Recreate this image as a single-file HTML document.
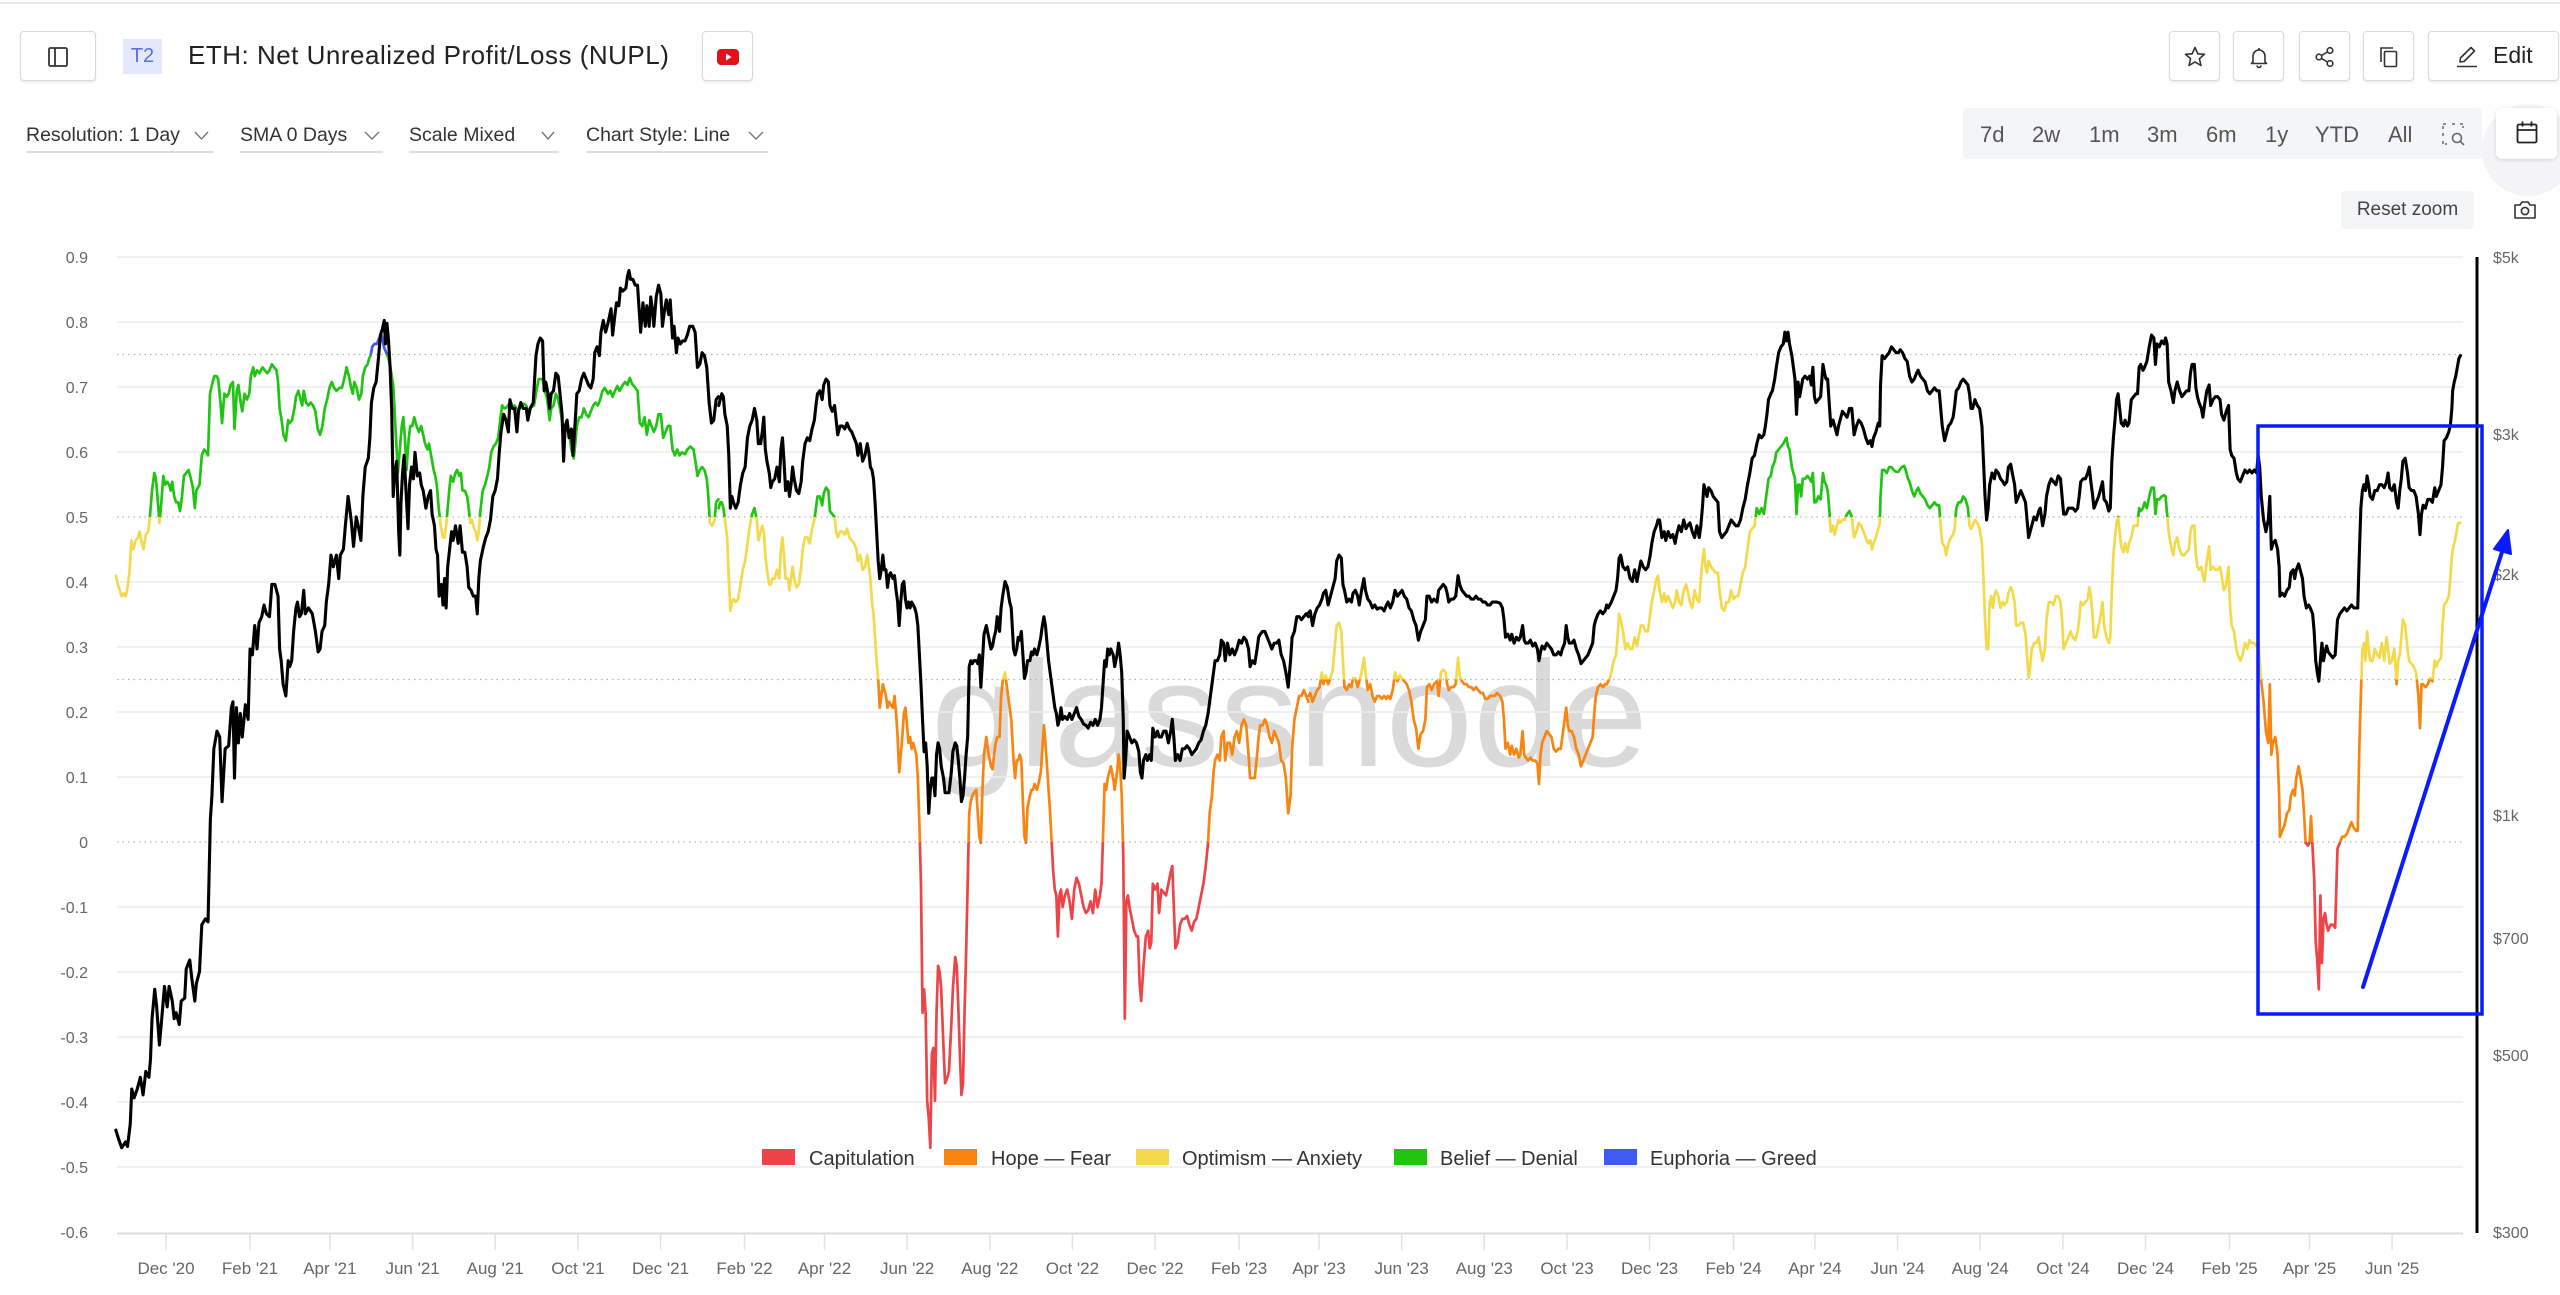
<!DOCTYPE html>
<html><head><meta charset="utf-8">
<style>
html,body{margin:0;padding:0;background:#fff;}
body{width:2560px;height:1295px;position:relative;overflow:hidden;font-family:"Liberation Sans",Arial,sans-serif;}
.btn{position:absolute;box-sizing:border-box;border:1px solid #d9d9d9;border-radius:4px;background:#fff;box-shadow:0 2px 2px rgba(0,0,0,0.07);}
.dd{position:absolute;top:126px;font-size:19.5px;color:#333;line-height:19.5px;white-space:nowrap;}
.ul{position:absolute;top:151px;height:2px;background:#dedede;}
.tr{position:absolute;top:124px;font-size:22px;line-height:22px;color:#555;white-space:nowrap;}
svg{position:absolute;left:0;top:0;}
</style></head><body>

<div style="position:absolute;left:0;top:2px;width:2560px;height:2px;background:#e8e8e8;"></div>

<!-- header left -->
<div class="btn" style="left:20px;top:31px;width:76px;height:50px;">
<svg style="left:26px;top:14px" width="22" height="22" viewBox="0 0 22 22"><rect x="2" y="2" width="18" height="18" rx="1.5" fill="none" stroke="#333" stroke-width="1.8"/><line x1="8" y1="2" x2="8" y2="20" stroke="#333" stroke-width="1.8"/></svg>
</div>
<div style="position:absolute;left:123px;top:39px;width:39px;height:35px;background:#e4e8fb;color:#5a6fe6;font-size:20px;line-height:35px;text-align:center;">T2</div>
<div style="position:absolute;left:188px;top:42px;font-size:26px;line-height:26px;color:#222;letter-spacing:0.5px;white-space:nowrap;">ETH: Net Unrealized Profit/Loss (NUPL)</div>
<div class="btn" style="left:702px;top:31px;width:51px;height:50px;">
<svg style="left:13px;top:16px" width="24" height="18" viewBox="0 0 24 18"><rect x="1" y="1" width="22" height="16" rx="4" fill="#e0121b"/><polygon points="10,5.5 15.5,9 10,12.5" fill="#fff"/></svg>
</div>

<!-- header right -->
<div class="btn" style="left:2169px;top:31px;width:51px;height:50px;">
<svg style="left:13px;top:13px" width="24" height="24" viewBox="0 0 24 24"><polygon points="12,2.5 14.8,8.8 21.5,9.3 16.4,13.7 18,20.5 12,16.9 6,20.5 7.6,13.7 2.5,9.3 9.2,8.8" fill="none" stroke="#333" stroke-width="1.6" stroke-linejoin="round"/></svg>
</div>
<div class="btn" style="left:2233px;top:31px;width:51px;height:50px;">
<svg style="left:13px;top:13px" width="24" height="24" viewBox="0 0 24 24"><path d="M6 17 V11 a6 6 0 0 1 12 0 V17 l1.5 1.5 H4.5 Z" fill="none" stroke="#333" stroke-width="1.6" stroke-linejoin="round"/><path d="M10 20.5 a2 2 0 0 0 4 0" fill="none" stroke="#333" stroke-width="1.6"/><line x1="12" y1="3" x2="12" y2="5" stroke="#333" stroke-width="1.6"/></svg>
</div>
<div class="btn" style="left:2299px;top:31px;width:51px;height:50px;">
<svg style="left:13px;top:13px" width="24" height="24" viewBox="0 0 24 24"><circle cx="17" cy="5.5" r="2.8" fill="none" stroke="#333" stroke-width="1.6"/><circle cx="6" cy="12" r="2.8" fill="none" stroke="#333" stroke-width="1.6"/><circle cx="17" cy="18.5" r="2.8" fill="none" stroke="#333" stroke-width="1.6"/><line x1="8.5" y1="10.6" x2="14.5" y2="7" stroke="#333" stroke-width="1.6"/><line x1="8.5" y1="13.4" x2="14.5" y2="17" stroke="#333" stroke-width="1.6"/></svg>
</div>
<div class="btn" style="left:2363px;top:31px;width:51px;height:50px;">
<svg style="left:13px;top:13px" width="24" height="24" viewBox="0 0 24 24"><path d="M4 17 V3 H16" fill="none" stroke="#333" stroke-width="1.6"/><rect x="7.5" y="6.5" width="12" height="15" rx="1" fill="none" stroke="#333" stroke-width="1.6"/></svg>
</div>
<div class="btn" style="left:2428px;top:31px;width:131px;height:50px;">
<svg style="left:26px;top:12px" width="24" height="26" viewBox="0 0 24 26"><path d="M5 18 L5.5 14 L16 3.5 L19.5 7 L9 17.5 Z" fill="none" stroke="#333" stroke-width="1.6" stroke-linejoin="round"/><line x1="2" y1="22.5" x2="22" y2="22.5" stroke="#333" stroke-width="1.6"/></svg>
<div style="position:absolute;left:64px;top:12px;font-size:23px;line-height:23px;color:#222;">Edit</div>
</div>

<!-- row 2 dropdowns -->
<div class="dd" style="left:26px;">Resolution: 1 Day</div>
<div class="dd" style="left:240px;">SMA 0 Days</div>
<div class="dd" style="left:409px;">Scale Mixed</div>
<div class="dd" style="left:586px;">Chart Style: Line</div>
<div class="ul" style="left:26px;width:188px;"></div>
<div class="ul" style="left:240px;width:143px;"></div>
<div class="ul" style="left:409px;width:150px;"></div>
<div class="ul" style="left:586px;width:182px;"></div>
<svg width="2560" height="200" viewBox="0 0 2560 200" style="pointer-events:none">
<g fill="none" stroke="#777" stroke-width="1.4">
<polyline points="195,132 201.5,139 208,132"/>
<polyline points="365,132 372,139 379,132"/>
<polyline points="542,132 548,139 554,132"/>
<polyline points="749,132 756,139 763,132"/>
</g>
</svg>

<!-- time range -->
<div style="position:absolute;left:1963px;top:108px;width:519px;height:51px;background:#f4f5f7;border-radius:4px;"></div>
<div class="tr" style="left:1980px;">7d</div>
<div class="tr" style="left:2032px;">2w</div>
<div class="tr" style="left:2089px;">1m</div>
<div class="tr" style="left:2147px;">3m</div>
<div class="tr" style="left:2206px;">6m</div>
<div class="tr" style="left:2265px;">1y</div>
<div class="tr" style="left:2315px;">YTD</div>
<div class="tr" style="left:2388px;">All</div>
<svg style="left:2441px;top:122px" width="26" height="26" viewBox="0 0 26 26"><path d="M2 7 V2 H7 M11 2 H15 M19 2 H22 V6 M2 11 V15 M2 19 V22 H6" fill="none" stroke="#666" stroke-width="1.5" stroke-dasharray="3 2"/><circle cx="16" cy="16" r="4.5" fill="none" stroke="#666" stroke-width="1.6"/><line x1="19.3" y1="19.3" x2="23" y2="23" stroke="#666" stroke-width="1.6"/></svg>

<div style="position:absolute;left:2482px;top:104px;width:92px;height:92px;border-radius:50%;background:#f4f4f6;"></div>
<div style="position:absolute;left:2496px;top:108px;width:61px;height:51px;background:#fff;border-radius:6px;box-shadow:0 1px 4px rgba(0,0,0,0.13);">
<svg style="left:19px;top:12px" width="24" height="26" viewBox="0 0 24 26"><rect x="2.5" y="4.5" width="19" height="18" rx="1.5" fill="none" stroke="#222" stroke-width="1.8"/><line x1="2.5" y1="10" x2="21.5" y2="10" stroke="#222" stroke-width="1.8"/><line x1="7.5" y1="1.5" x2="7.5" y2="6.5" stroke="#222" stroke-width="1.8"/><line x1="16.5" y1="1.5" x2="16.5" y2="6.5" stroke="#222" stroke-width="1.8"/></svg>
</div>

<div style="position:absolute;left:2341px;top:191px;width:133px;height:38px;background:#f4f5f7;border-radius:4px;font-size:19px;line-height:38px;text-align:center;color:#444;">Reset zoom</div>
<svg style="left:2513px;top:199px" width="24" height="22" viewBox="0 0 24 22"><path d="M2 6 H7 L9 3 H15 L17 6 H22 V19 H2 Z" fill="none" stroke="#333" stroke-width="1.6" stroke-linejoin="round"/><circle cx="12" cy="12" r="3.6" fill="none" stroke="#333" stroke-width="1.6"/></svg>

<!-- chart -->
<svg width="2560" height="1295" viewBox="0 0 2560 1295">
<defs>
<clipPath id="cB" clipPathUnits="userSpaceOnUse"><rect x="0" y="0" width="2560" height="354.5"/></clipPath>
<clipPath id="cG" clipPathUnits="userSpaceOnUse"><rect x="0" y="354.5" width="2560" height="162.5"/></clipPath>
<clipPath id="cY" clipPathUnits="userSpaceOnUse"><rect x="0" y="517" width="2560" height="162.5"/></clipPath>
<clipPath id="cO" clipPathUnits="userSpaceOnUse"><rect x="0" y="679.5" width="2560" height="162.5"/></clipPath>
<clipPath id="cR" clipPathUnits="userSpaceOnUse"><rect x="0" y="842" width="2560" height="453"/></clipPath>
<g id="nupl" fill="none" stroke-width="2.7" stroke-linejoin="round" stroke-linecap="round">
<g transform="translate(110,250) scale(0.38903,0.58675)"><polyline vector-effect="non-scaling-stroke" points="15,555 20,570 25,580 30,590 36,585 40,590 44,580 50,550 55,495 60,510 66,495 72,490 76,480 82,500 86,510 92,485 98,480 102,460 108,410 114,380 118,390 122,420 127,465 132,430 137,385 142,400 147,395 152,400 156,410 160,395 165,420 170,430 175,430 180,445 185,420 190,385 196,380 202,375 208,390 213,405 218,440 222,410 230,400 236,350 242,340 248,345 252,350 257,245 262,230 268,215 274,215 278,220 284,260 288,295 294,245 300,250 305,245 310,230 316,225 320,305 326,240 330,230 336,260 340,275 346,245 352,255 358,245 362,215 368,200 372,215 378,205 384,210 392,200 398,205 404,210 410,205 416,195 422,200 428,205 432,225 436,270 440,285 446,315 452,325 458,290 462,295 468,290 474,270 478,250 484,240 490,255 494,265 498,240 504,260 510,265 516,260 522,265 528,275 534,305 540,315 546,300 552,270 558,255 564,235 570,225 576,235 582,240 590,235 596,235 602,220 608,200 614,215 620,235 624,245 628,225 634,235 640,255 646,245 650,215 656,200 662,195 666,185 670,180 674,165 680,160 686,160 692,150 698,145 704,165 710,175 716,185 722,205 728,230 732,280 736,330 740,380 745,340 750,300 754,285 758,320 762,375 768,320 772,300 777,300 782,285 788,300 794,310 800,300 805,315 810,330 816,340 820,330 824,345 828,360 832,375 836,385 840,400 845,440 850,470 856,490 860,490 864,470 868,440 872,410 876,385 882,395 888,380 892,375 898,385 902,380 906,410 912,410 918,420 922,440 926,465 930,460 936,475 940,480 944,495 948,480 952,445 958,410 964,400 970,385 975,370 980,345 986,335 992,330 998,320 1003,290 1008,265 1014,270 1020,268 1026,262 1032,268 1040,265 1048,272 1056,268 1064,262 1070,265 1076,280 1082,268 1090,265 1096,240 1102,220 1108,220 1112,220 1118,240 1124,255 1130,290 1134,270 1140,265 1146,245 1152,255 1158,275 1164,300 1170,310 1176,300 1182,320 1186,340 1192,355 1196,330 1200,300 1206,285 1212,285 1218,270 1224,280 1230,285 1236,275 1242,265 1248,260 1254,265 1260,255 1266,240 1272,235 1280,245 1286,240 1292,250 1298,240 1304,232 1310,240 1318,230 1324,225 1330,230 1336,218 1342,228 1348,233 1356,240 1362,295 1368,300 1374,285 1380,315 1386,290 1392,300 1398,310 1404,300 1410,280 1416,280 1422,320 1428,310 1434,300 1440,300 1446,340 1452,350 1458,340 1464,350 1470,345 1478,348 1484,340 1492,335 1500,340 1506,365 1510,385 1516,375 1522,370 1528,375 1534,390 1538,420 1542,465 1548,470 1554,460 1558,430 1564,425"/></g>
<g transform="translate(700,250) scale(0.38903,0.58675)"><polyline vector-effect="non-scaling-stroke" points="48,440 52,430 56,430 60,440 64,460 70,490 74,560 78,615 82,600 86,595 92,600 98,595 104,570 110,545 116,530 122,500 128,470 134,450 140,440 146,460 150,495 156,480 160,470 164,480 168,520 172,545 178,570 182,570 186,560 192,560 198,545 204,560 208,510 212,490 216,520 220,560 226,560 230,580 234,560 238,540 242,560 248,575 254,570 260,540 264,510 270,490 276,490 282,500 288,475 294,460 298,440 302,420 308,420 314,435 318,415 324,405 330,410 334,445 340,450 346,455 350,480 354,490 360,480 366,480 372,485 378,475 384,490 390,495 396,500 402,510 406,530 412,520 418,545 424,540 430,520 434,540 438,560 442,600 446,620 450,660 454,700 458,730 462,780 466,760 470,740 474,750 478,760 482,780 486,770 490,775 496,780 500,760 504,790 508,830 512,890 516,860 520,830 524,790 528,780 532,810 536,840 540,830 544,850 548,840 552,850 556,860 560,900 564,980 568,1080 572,1300 576,1260 580,1300 584,1450 588,1480 592,1530 596,1370 600,1360 604,1450 608,1300 612,1220 616,1230 620,1260 626,1360 630,1420 636,1410 640,1400 646,1320 650,1260 656,1205 660,1220 664,1290 668,1370 672,1440 676,1420 680,1300 684,1200 688,1080 692,960 696,940 700,930 704,925 710,920 714,960 718,1000 722,1010 726,920 730,860 736,830 742,860 748,880 752,885 756,860 760,840 764,830 770,830 774,760 778,735 784,720 790,750 796,780 800,800 806,870 810,900 814,870 818,870 822,860 826,870 830,940 834,1000 838,1010 842,950 848,930 852,920 856,920 860,910 866,920 870,910 876,890 880,850 884,810 888,840 892,880 896,920 900,960 904,1010 908,1060 912,1090 916,1100 920,1170 924,1100 928,1090 932,1120 938,1100 944,1090 950,1110 956,1140 962,1090 968,1070 974,1080 980,1100 986,1120 992,1130 998,1125 1004,1110 1010,1130 1016,1090 1022,1120 1028,1100 1032,1080 1036,1000 1040,910 1044,920 1048,900 1052,890 1056,880 1062,900 1066,920 1072,890 1076,860 1080,880 1084,930 1088,1030 1092,1310 1096,1110 1100,1100 1104,1120 1110,1140 1116,1160 1122,1170 1126,1170 1130,1250 1134,1280 1140,1220 1146,1170 1152,1160 1156,1190 1160,1180 1164,1080 1170,1090 1176,1080 1180,1130 1186,1090 1192,1095 1198,1100 1204,1080 1210,1060 1214,1050 1218,1120 1222,1190 1228,1180 1234,1150 1240,1140 1246,1140 1252,1135 1258,1150 1264,1160 1270,1145 1276,1140 1282,1120 1288,1100 1294,1080 1300,1050 1306,1010 1310,960 1316,930 1320,890 1324,870 1330,860 1336,870 1340,830 1346,820 1350,870 1356,840 1362,840 1368,860 1374,830 1380,820 1386,840 1392,810 1398,800 1404,810 1410,860 1414,900 1420,900 1426,900 1432,860 1436,830 1440,810 1446,810 1452,800 1458,810 1464,830 1470,840 1476,820 1482,830 1488,840 1494,870 1500,875 1506,900 1512,960 1518,930 1522,850 1528,800 1534,780 1540,760 1546,760 1552,750 1558,760 1564,770"/></g>
<g transform="translate(1290,250) scale(0.38903,0.58675)"><polyline vector-effect="non-scaling-stroke" points="48,760 52,755 58,770 64,760 70,750 76,745 82,720 86,740 92,725 98,740 104,730 110,715 116,670 120,640 126,635 132,650 136,700 140,745 146,750 152,740 158,745 162,730 168,730 174,745 178,735 184,720 190,695 194,720 200,750 206,740 212,760 218,770 224,760 230,760 236,765 242,760 248,765 252,760 258,765 264,750 270,720 276,735 282,725 288,730 294,735 300,740 306,750 312,770 318,800 324,815 330,850 336,825 342,820 348,800 352,745 358,740 364,750 370,740 378,735 382,760 388,720 394,715 400,720 404,740 408,750 414,745 420,745 426,740 432,695 436,725 442,735 448,740 454,740 460,745 466,745 472,750 478,745 484,750 490,755 496,755 502,765 508,765 514,760 520,760 526,760 532,755 540,760 546,770 550,800 554,850 560,840 566,860 570,845 576,860 582,850 588,865 592,860 598,820 602,860 606,865 612,870 618,865 624,870 630,870 636,875 640,910 644,860 648,840 654,830 660,820 666,825 672,830 678,850 684,855 690,850 696,850 700,830 706,800 710,780 714,810 718,820 724,820 730,830 736,850 742,860 748,880 754,870 760,860 766,850 772,840 778,830 782,790 786,760 792,745 798,740 804,745 810,740 814,740 818,735 822,730 826,720 832,700 838,690 842,660 846,620 850,630 856,650 862,680 868,670 874,680 880,680 886,660 892,675 896,660 902,640 908,640 914,650 920,650 926,620 930,600 936,580 942,560 946,555 950,580 956,600 962,585 966,600 972,590 978,600 984,610 990,600 994,580 1000,600 1006,605 1012,580 1018,570 1022,580 1028,600 1034,610 1040,580 1046,595 1052,600 1056,560 1060,530 1064,510 1068,540 1072,550 1076,530 1082,540 1088,545 1094,550 1100,550 1104,580 1110,610 1116,615 1122,600 1128,600 1134,580 1140,595 1146,590 1152,590 1158,570 1164,550 1170,540 1176,510 1182,480 1188,475 1194,470 1200,440 1206,450 1212,440 1218,450 1222,430 1226,410 1230,390 1236,385 1240,370 1246,360 1250,345 1256,340 1262,335 1268,330 1272,325 1276,320 1280,335 1284,340 1290,370 1294,380 1298,390 1302,450 1306,400 1310,400 1314,420 1318,390 1324,390 1330,385 1336,390 1340,395 1344,380 1348,430 1352,430 1358,420 1364,425 1370,380 1374,395 1378,400 1382,410 1386,440 1390,480 1396,470 1400,485 1406,470 1410,460 1414,465 1420,460 1426,460 1432,450 1438,445 1444,455 1450,490 1456,480 1462,465 1468,470 1474,480 1480,490 1486,500 1492,495 1496,510 1500,500 1506,490 1512,475 1516,465 1518,420 1522,375 1528,375 1534,380 1540,370 1546,370 1552,375 1558,378 1564,378"/></g>
<g transform="translate(1880,250) scale(0.38903,0.58675)"><polyline vector-effect="non-scaling-stroke" points="50,375 56,370 62,368 66,375 72,390 76,395 82,410 88,420 94,410 98,405 104,415 110,420 116,425 122,435 128,440 134,435 140,430 146,435 152,435 156,470 160,500 166,505 170,520 176,500 182,490 188,485 192,475 196,440 202,430 208,430 214,420 220,425 226,440 230,470 234,475 238,470 244,460 250,465 256,475 262,500 266,560 270,630 274,680 278,680 282,600 286,590 290,610 294,590 298,580 304,590 310,610 316,600 320,605 326,600 330,585 336,575 340,580 346,600 350,640 356,640 362,635 368,635 374,655 378,690 382,730 386,710 390,680 396,670 402,670 408,660 412,680 418,700 424,680 428,630 434,600 440,600 446,605 452,590 458,590 464,600 468,630 472,680 478,670 484,660 490,650 496,660 502,665 508,650 512,630 516,600 522,605 528,600 534,595 538,575 542,590 546,620 550,660 556,660 562,640 568,620 572,600 576,640 582,660 588,670 592,660 596,580 600,520 604,490 608,465 612,455 616,480 620,505 626,515 630,500 636,515 640,500 646,490 652,470 658,470 662,470 666,440 670,445 676,440 680,430 686,440 692,420 698,405 704,405 708,450 712,425 718,425 724,420 730,418 734,420 738,450 742,480 748,505 754,520 758,500 764,490 770,510 776,520 782,520 788,515 794,510 798,480 802,470 808,470 812,520 816,540 820,545 826,540 830,555 834,565 840,530 846,505 850,545 856,540 862,545 868,545 874,540 878,555 884,580 890,570 896,540 900,610 904,640 910,650 916,680 920,690 926,700 932,690 938,670 944,680 950,665 956,670 962,670 968,675 972,665 976,700 980,735 986,770 992,820 998,840 1002,740 1006,860 1010,840 1016,830 1022,860 1026,930 1028,1000 1034,990 1040,980 1046,960 1052,955 1056,930 1062,920 1066,930 1070,900 1076,880 1080,895 1086,920 1090,960 1094,1010 1100,1015 1104,1010 1108,965 1112,1020 1116,1070 1120,1180 1124,1210 1128,1260 1132,1100 1136,1215 1140,1140 1144,1130 1148,1150 1152,1160 1158,1150 1164,1150 1170,1155 1176,1020 1182,1010 1188,1000 1194,1000 1200,995 1206,985 1212,975 1218,985 1224,990 1228,990 1232,850 1236,760 1240,680 1244,670 1248,700 1252,650 1256,680 1260,700 1266,700 1272,680 1278,690 1284,695 1290,670 1296,700 1302,660 1306,680 1310,705 1316,700 1322,680 1328,740 1332,700 1336,690 1340,660 1344,630 1350,640 1356,680 1360,700 1366,705 1372,710 1378,720 1384,760 1388,815 1392,740 1396,740 1402,745 1408,740 1414,730 1420,735 1426,700 1430,710 1436,700 1442,695 1446,640 1450,605 1456,600 1462,590 1466,560 1470,520 1474,505 1478,495 1482,480 1486,465 1492,465"/></g>
</g>
</defs>

<!-- watermark -->
<text x="931" y="766" font-family="Liberation Sans, sans-serif" font-size="150" fill="#dadada" textLength="717" lengthAdjust="spacingAndGlyphs">glassnode</text>

<!-- gridlines -->
<g stroke="#ececec" stroke-width="1.5">
<line x1="117" y1="257" x2="2463" y2="257"/>
<line x1="117" y1="322" x2="2463" y2="322"/>
<line x1="117" y1="387" x2="2463" y2="387"/>
<line x1="117" y1="452" x2="2463" y2="452"/>
<line x1="117" y1="582" x2="2463" y2="582"/>
<line x1="117" y1="647" x2="2463" y2="647"/>
<line x1="117" y1="712" x2="2463" y2="712"/>
<line x1="117" y1="777" x2="2463" y2="777"/>
<line x1="117" y1="907" x2="2463" y2="907"/>
<line x1="117" y1="972" x2="2463" y2="972"/>
<line x1="117" y1="1037" x2="2463" y2="1037"/>
<line x1="117" y1="1102" x2="2463" y2="1102"/>
<line x1="117" y1="1167" x2="2463" y2="1167"/>
</g>
<g stroke="#b3b3b3" stroke-width="1.3" stroke-dasharray="1.5 4">
<line x1="117" y1="354.5" x2="2463" y2="354.5"/>
<line x1="117" y1="517" x2="2463" y2="517"/>
<line x1="117" y1="679.5" x2="2463" y2="679.5"/>
<line x1="117" y1="842" x2="2463" y2="842"/>
</g>
<line x1="117" y1="1233.5" x2="2463" y2="1233.5" stroke="#dcdcdc" stroke-width="2"/>
<g stroke="#e2e2e2" stroke-width="1.5">
<line x1="166" y1="1234" x2="166" y2="1250"/><line x1="250" y1="1234" x2="250" y2="1250"/><line x1="329.9" y1="1234" x2="329.9" y2="1250"/><line x1="412.6" y1="1234" x2="412.6" y2="1250"/><line x1="495.2" y1="1234" x2="495.2" y2="1250"/><line x1="577.9" y1="1234" x2="577.9" y2="1250"/><line x1="660.5" y1="1234" x2="660.5" y2="1250"/><line x1="744.5" y1="1234" x2="744.5" y2="1250"/><line x1="824.5" y1="1234" x2="824.5" y2="1250"/><line x1="907.1" y1="1234" x2="907.1" y2="1250"/><line x1="989.8" y1="1234" x2="989.8" y2="1250"/><line x1="1072.4" y1="1234" x2="1072.4" y2="1250"/><line x1="1155.1" y1="1234" x2="1155.1" y2="1250"/><line x1="1239.1" y1="1234" x2="1239.1" y2="1250"/><line x1="1319" y1="1234" x2="1319" y2="1250"/><line x1="1401.7" y1="1234" x2="1401.7" y2="1250"/><line x1="1484.3" y1="1234" x2="1484.3" y2="1250"/><line x1="1567" y1="1234" x2="1567" y2="1250"/><line x1="1649.6" y1="1234" x2="1649.6" y2="1250"/><line x1="1733.6" y1="1234" x2="1733.6" y2="1250"/><line x1="1814.9" y1="1234" x2="1814.9" y2="1250"/><line x1="1897.6" y1="1234" x2="1897.6" y2="1250"/><line x1="1980.2" y1="1234" x2="1980.2" y2="1250"/><line x1="2062.9" y1="1234" x2="2062.9" y2="1250"/><line x1="2145.5" y1="1234" x2="2145.5" y2="1250"/><line x1="2229.5" y1="1234" x2="2229.5" y2="1250"/><line x1="2309.5" y1="1234" x2="2309.5" y2="1250"/><line x1="2392.1" y1="1234" x2="2392.1" y2="1250"/>
</g>

<!-- axis labels -->
<g font-family="Liberation Sans, sans-serif" font-size="16" fill="#666" text-anchor="end">
<text x="88" y="263">0.9</text><text x="88" y="328">0.8</text><text x="88" y="393">0.7</text><text x="88" y="458">0.6</text><text x="88" y="523">0.5</text><text x="88" y="588">0.4</text><text x="88" y="653">0.3</text><text x="88" y="718">0.2</text><text x="88" y="783">0.1</text><text x="88" y="848">0</text><text x="88" y="913">-0.1</text><text x="88" y="978">-0.2</text><text x="88" y="1043">-0.3</text><text x="88" y="1108">-0.4</text><text x="88" y="1173">-0.5</text><text x="88" y="1238">-0.6</text>
</g>
<g font-family="Liberation Sans, sans-serif" font-size="16" fill="#666">
<text x="2493" y="263">$5k</text><text x="2493" y="440">$3k</text><text x="2493" y="580">$2k</text><text x="2493" y="821">$1k</text><text x="2493" y="944">$700</text><text x="2493" y="1061">$500</text><text x="2493" y="1238">$300</text>
</g>
<g font-family="Liberation Sans, sans-serif" font-size="17" fill="#666" text-anchor="middle">
<text x="166" y="1274">Dec '20</text><text x="250" y="1274">Feb '21</text><text x="329.9" y="1274">Apr '21</text><text x="412.6" y="1274">Jun '21</text><text x="495.2" y="1274">Aug '21</text><text x="577.9" y="1274">Oct '21</text><text x="660.5" y="1274">Dec '21</text><text x="744.5" y="1274">Feb '22</text><text x="824.5" y="1274">Apr '22</text><text x="907.1" y="1274">Jun '22</text><text x="989.8" y="1274">Aug '22</text><text x="1072.4" y="1274">Oct '22</text><text x="1155.1" y="1274">Dec '22</text><text x="1239.1" y="1274">Feb '23</text><text x="1319" y="1274">Apr '23</text><text x="1401.7" y="1274">Jun '23</text><text x="1484.3" y="1274">Aug '23</text><text x="1567" y="1274">Oct '23</text><text x="1649.6" y="1274">Dec '23</text><text x="1733.6" y="1274">Feb '24</text><text x="1814.9" y="1274">Apr '24</text><text x="1897.6" y="1274">Jun '24</text><text x="1980.2" y="1274">Aug '24</text><text x="2062.9" y="1274">Oct '24</text><text x="2145.5" y="1274">Dec '24</text><text x="2229.5" y="1274">Feb '25</text><text x="2309.5" y="1274">Apr '25</text><text x="2392.1" y="1274">Jun '25</text>
</g>

<!-- legend -->
<g font-family="Liberation Sans, sans-serif" font-size="20" fill="#333">
<rect x="762" y="1149" width="33" height="16" fill="#ec4448"/><text x="809" y="1165">Capitulation</text>
<rect x="944" y="1149" width="33" height="16" fill="#f7850f"/><text x="991" y="1165">Hope — Fear</text>
<rect x="1136" y="1149" width="33" height="16" fill="#f4d94b"/><text x="1182" y="1165">Optimism — Anxiety</text>
<rect x="1394" y="1149" width="33" height="16" fill="#22c414"/><text x="1440" y="1165">Belief — Denial</text>
<rect x="1604" y="1149" width="33" height="16" fill="#3d5af1"/><text x="1650" y="1165">Euphoria — Greed</text>
</g>

<!-- NUPL series, colored by band -->
<use href="#nupl" stroke="#ec4448" clip-path="url(#cR)"/>
<use href="#nupl" stroke="#f7850f" clip-path="url(#cO)"/>
<use href="#nupl" stroke="#f4d94b" clip-path="url(#cY)"/>
<use href="#nupl" stroke="#22c414" clip-path="url(#cG)"/>
<use href="#nupl" stroke="#3d5af1" clip-path="url(#cB)"/>

<!-- price -->
<g fill="none" stroke="#000" stroke-width="3.1" stroke-linejoin="round" stroke-linecap="round">
<g transform="translate(110,250) scale(0.38903,0.58675)"><polyline vector-effect="non-scaling-stroke" points="15,1500 22,1515 30,1530 40,1520 45,1528 52,1490 56,1430 62,1445 70,1430 78,1410 85,1440 92,1400 100,1410 104,1380 108,1310 115,1260 120,1290 127,1355 133,1310 140,1255 147,1290 152,1255 160,1280 165,1310 170,1300 178,1320 183,1280 192,1275 196,1225 205,1210 210,1240 218,1280 222,1250 230,1230 236,1150 245,1140 252,1145 258,970 262,930 267,850 275,820 282,830 288,940 296,850 305,845 312,780 316,770 320,900 325,780 330,840 335,790 340,830 348,775 355,800 360,680 366,690 372,640 378,680 383,635 390,625 396,605 402,620 410,625 416,570 424,570 432,590 436,680 440,700 445,740 452,760 458,700 462,710 467,700 472,650 478,610 482,600 487,625 492,620 498,580 502,620 510,610 520,620 528,650 535,685 540,680 545,650 552,640 556,600 562,570 568,520 574,540 582,520 588,560 592,520 600,510 605,470 612,420 620,460 626,505 633,455 638,470 645,495 650,420 656,370 664,355 668,320 672,260 678,235 684,225 690,185 695,145 700,135 705,120 708,160 712,125 716,155 720,200 724,270 728,420 732,380 737,360 742,480 745,520 748,430 752,380 756,350 760,400 766,475 770,400 775,370 780,390 784,345 790,385 796,380 800,400 805,410 812,440 818,420 824,410 828,450 834,470 838,510 842,520 846,590 852,570 856,605 860,560 864,610 868,540 873,510 878,480 882,495 888,470 895,500 900,470 906,515 912,515 918,540 922,575 928,580 934,590 940,590 944,620 948,560 952,530 960,505 966,490 972,480 978,460 984,420 990,410 996,390 1000,350 1005,310 1012,280 1018,290 1024,310 1028,255 1034,270 1040,270 1046,310 1050,275 1056,260 1062,270 1070,270 1074,290 1080,270 1088,260 1095,180 1100,160 1106,150 1112,155 1116,240 1120,225 1126,245 1130,270 1134,245 1140,240 1146,210 1152,215 1156,240 1162,280 1166,360 1170,300 1175,290 1180,320 1186,305 1190,350 1196,290 1200,245 1206,240 1212,220 1218,210 1224,220 1230,230 1236,235 1242,220 1246,175 1252,165 1258,180 1262,140 1268,120 1274,140 1280,125 1288,100 1292,145 1298,110 1302,90 1308,95 1312,65 1318,70 1326,65 1330,45 1334,35 1338,50 1344,50 1350,60 1356,60 1360,100 1364,140 1370,90 1376,130 1380,95 1386,130 1390,80 1394,100 1398,130 1404,80 1410,60 1416,75 1420,130 1426,100 1430,85 1436,110 1440,85 1446,150 1450,130 1456,175 1460,150 1466,160 1472,155 1478,155 1484,145 1490,130 1498,130 1504,140 1510,200 1516,195 1522,175 1528,180 1534,200 1540,260 1546,295 1552,290 1558,255 1564,250"/></g>
<g transform="translate(700,250) scale(0.38903,0.58675)"><polyline vector-effect="non-scaling-stroke" points="48,265 52,255 56,245 60,250 64,280 70,300 74,350 78,440 82,420 86,430 92,440 98,430 104,400 110,380 116,370 122,320 128,300 134,290 140,270 146,290 150,330 156,330 160,310 164,285 168,340 172,360 178,380 182,405 186,395 192,390 198,370 204,395 208,340 212,320 216,360 220,410 226,395 230,420 234,400 238,370 242,390 248,410 254,415 260,395 264,360 270,330 276,320 282,325 288,305 294,290 298,265 302,245 308,240 314,255 318,230 324,220 330,225 334,265 340,275 346,265 350,290 354,315 360,300 366,300 372,305 378,295 384,305 390,310 396,320 402,330 406,350 412,330 418,360 424,350 430,330 434,345 438,370 442,375 446,390 450,430 454,480 458,530 462,560 466,545 470,520 474,545 478,545 482,575 486,555 490,550 496,560 500,555 504,580 508,600 512,640 516,600 520,570 524,565 528,595 532,610 536,600 540,610 544,600 548,605 552,610 556,620 560,640 564,690 568,740 572,800 576,855 580,840 584,880 588,960 592,920 596,900 600,900 604,930 608,860 612,840 616,850 620,880 626,900 630,925 636,925 640,925 646,890 650,855 656,840 660,845 664,870 668,900 672,940 676,930 680,900 684,860 688,830 692,710 696,700 700,705 704,700 710,700 714,705 718,690 722,745 726,700 730,655 736,640 742,660 748,680 752,675 756,660 760,650 764,625 770,650 774,610 778,590 784,565 790,575 796,600 800,610 806,680 810,690 814,680 818,660 822,665 826,650 830,690 834,730 838,720 842,700 848,700 852,685 856,690 860,680 866,690 870,680 876,660 880,640 884,625 888,640 892,670 896,700 900,720 904,740 908,760 912,780 916,790 920,810 924,800 928,780 932,800 938,795 944,800 950,790 956,800 962,790 968,780 974,795 980,800 986,808 992,810 998,815 1004,805 1010,810 1016,800 1022,810 1028,800 1032,780 1036,740 1040,700 1044,710 1048,680 1052,690 1056,680 1062,690 1066,710 1072,690 1076,670 1080,690 1084,720 1088,800 1090,900 1094,870 1098,820 1104,830 1110,840 1116,835 1122,840 1128,855 1132,890 1136,900 1140,870 1146,860 1150,870 1156,860 1160,870 1164,815 1170,830 1176,820 1180,830 1186,830 1192,820 1198,820 1204,840 1210,820 1214,800 1218,830 1222,870 1228,860 1234,870 1240,850 1246,850 1252,845 1258,850 1264,860 1270,855 1276,850 1282,840 1288,835 1294,820 1300,810 1306,790 1310,770 1316,740 1320,720 1324,700 1330,700 1336,690 1340,665 1346,670 1350,700 1356,670 1362,690 1368,680 1374,690 1380,680 1386,665 1392,670 1398,660 1404,665 1410,680 1414,710 1420,700 1426,705 1432,680 1436,660 1440,655 1446,650 1452,650 1458,660 1464,670 1470,680 1476,670 1482,670 1488,665 1494,690 1500,700 1506,720 1512,745 1518,700 1522,660 1528,650 1534,625 1540,625 1546,630 1552,625 1558,620 1564,625"/></g>
<g transform="translate(1290,250) scale(0.38903,0.58675)"><polyline vector-effect="non-scaling-stroke" points="48,618 52,615 58,640 64,620 70,610 76,605 82,595 86,585 92,580 98,605 104,590 110,575 116,560 120,530 126,520 132,525 136,570 140,580 146,600 152,595 158,600 162,585 168,580 174,590 178,605 184,580 190,560 194,580 200,595 206,600 212,610 218,605 224,612 230,610 236,610 242,615 248,605 252,600 258,610 264,600 270,580 276,590 282,585 288,580 294,590 300,595 306,610 312,615 318,630 324,640 330,665 336,650 342,640 348,630 352,590 358,590 364,600 370,595 378,600 382,580 388,575 394,570 400,575 404,585 408,600 414,595 420,595 426,590 432,555 436,570 442,580 448,585 454,590 460,590 466,595 472,595 478,590 484,595 490,595 496,600 502,600 508,605 514,605 520,600 526,600 532,600 540,602 546,610 550,630 554,660 560,655 566,665 570,655 576,670 582,660 588,665 592,660 598,640 602,665 606,670 612,670 618,665 624,675 630,670 636,680 640,700 644,685 648,675 654,680 660,670 666,675 672,680 678,690 684,690 690,685 696,690 700,680 706,670 710,640 714,660 718,670 724,670 730,665 736,680 742,690 748,705 754,700 760,695 766,690 772,680 778,670 782,640 786,630 792,620 798,615 804,620 810,615 814,605 818,610 822,605 826,600 832,590 838,580 842,560 846,525 850,520 856,540 862,545 868,540 874,560 880,565 886,545 892,565 896,550 902,530 908,540 914,545 920,540 926,520 930,500 936,480 942,470 946,460 950,460 956,490 962,480 966,495 972,480 978,490 984,485 990,500 994,485 1000,470 1006,480 1012,460 1018,475 1022,470 1028,465 1034,480 1040,490 1046,470 1052,490 1056,470 1060,440 1064,400 1068,410 1072,420 1076,405 1082,410 1088,420 1094,425 1100,430 1104,480 1110,490 1116,485 1122,480 1128,470 1134,460 1140,465 1146,470 1152,470 1158,460 1164,440 1170,425 1176,400 1182,380 1188,355 1194,350 1200,330 1206,315 1212,320 1218,315 1222,300 1226,280 1230,255 1236,245 1240,240 1246,220 1250,200 1256,175 1262,165 1268,160 1272,140 1276,155 1280,140 1284,160 1290,180 1294,200 1298,220 1302,280 1306,225 1310,250 1314,235 1318,220 1324,215 1330,220 1336,215 1340,230 1344,200 1348,250 1352,260 1358,255 1364,250 1370,195 1374,210 1378,220 1382,220 1386,260 1390,300 1396,290 1400,300 1406,315 1410,300 1414,290 1420,275 1426,280 1432,285 1438,270 1444,270 1450,315 1456,300 1462,290 1468,295 1474,305 1480,320 1486,330 1492,325 1496,335 1500,320 1506,310 1512,295 1516,300 1518,230 1522,180 1528,185 1534,180 1540,175 1546,165 1552,170 1558,175 1564,175"/></g>
<g transform="translate(1880,250) scale(0.38903,0.58675)"><polyline vector-effect="non-scaling-stroke" points="50,172 52,170 58,175 64,185 70,190 76,215 82,225 88,220 94,210 98,205 104,215 110,220 116,225 122,240 128,245 134,240 140,235 146,240 152,240 156,270 160,300 166,325 172,310 176,300 182,295 188,285 192,265 196,240 202,235 208,225 214,220 220,225 226,230 230,245 234,270 238,270 244,255 250,265 256,270 262,300 266,360 270,420 274,460 278,440 282,400 288,380 294,390 298,375 304,380 310,390 316,395 320,400 326,395 330,370 336,365 340,380 346,400 350,430 356,420 362,410 368,420 374,430 378,460 382,490 386,480 390,470 396,455 402,460 408,445 412,440 418,470 424,450 428,420 434,400 440,390 446,395 452,400 458,385 464,390 468,420 472,450 478,450 484,440 490,440 496,440 502,445 508,440 512,420 516,395 522,390 528,390 534,380 538,370 542,395 546,415 550,440 556,430 562,420 568,405 572,395 576,425 582,430 588,445 592,440 596,360 600,320 604,290 608,255 612,245 616,270 620,295 626,300 630,290 636,300 640,295 646,255 652,250 658,245 662,245 666,200 670,195 676,205 680,200 686,190 692,165 698,145 704,150 708,195 712,160 718,165 724,155 730,160 734,150 738,160 742,225 748,240 754,260 758,240 764,225 770,240 776,250 782,245 788,240 794,240 798,210 802,195 808,195 812,235 816,250 820,260 826,270 830,285 834,265 840,240 846,230 850,265 856,255 862,250 868,250 874,255 878,280 884,290 890,275 896,265 900,340 904,350 910,355 916,380 920,390 926,395 932,385 938,375 944,380 950,375 956,380 962,375 968,380 972,350 976,370 980,420 986,460 992,480 998,460 1002,420 1006,510 1010,500 1016,495 1022,510 1026,540 1028,590 1034,585 1040,590 1046,580 1052,575 1056,550 1062,545 1066,560 1070,545 1076,535 1080,545 1086,560 1090,590 1096,610 1102,605 1106,610 1112,620 1116,650 1120,700 1124,720 1128,735 1132,700 1136,670 1140,700 1144,685 1148,675 1152,685 1158,690 1164,695 1170,690 1176,630 1182,620 1188,615 1194,610 1200,615 1206,610 1212,605 1218,610 1224,610 1228,610 1232,520 1236,440 1240,410 1244,400 1248,410 1252,385 1256,400 1260,420 1266,425 1272,410 1278,410 1284,400 1290,400 1296,405 1302,395 1306,380 1310,405 1316,410 1322,400 1328,430 1332,440 1336,410 1340,390 1344,360 1350,355 1356,380 1360,405 1366,410 1372,410 1378,420 1384,450 1388,485 1392,450 1396,435 1402,440 1408,425 1414,425 1420,430 1426,405 1430,420 1436,410 1442,400 1446,370 1450,325 1456,320 1462,310 1466,300 1470,270 1472,240 1476,225 1480,215 1484,200 1488,185 1492,180"/></g>
</g>

<!-- right axis line -->
<line x1="2477" y1="257" x2="2477" y2="1233" stroke="#000" stroke-width="3"/>

<!-- annotation box and arrow -->
<rect x="2258" y="426" width="224" height="588" fill="none" stroke="#0a1cff" stroke-width="3.5"/>
<line x1="2363" y1="987" x2="2502" y2="552" stroke="#0a1cff" stroke-width="4" stroke-linecap="round"/>
<polygon points="2508,530 2494,549 2511,554" fill="#0a1cff" stroke="#0a1cff" stroke-width="2" stroke-linejoin="round"/>
</svg>

</body></html>
